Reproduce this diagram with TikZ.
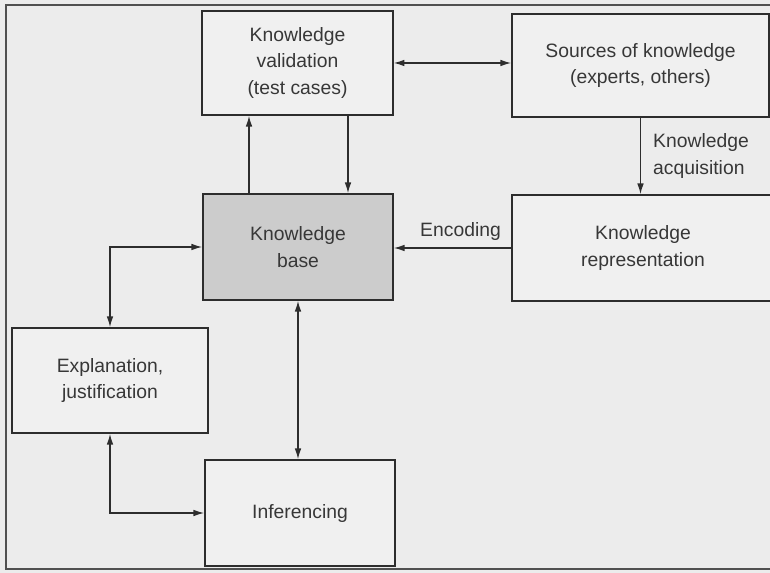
\documentclass[tikz,border=0pt]{standalone}
\usepackage{fontspec}
\setmainfont{Liberation Sans}
\usetikzlibrary{positioning,arrows.meta,calc}
\definecolor{ksPaper}{RGB}{236,236,236}
\definecolor{ksBox}{RGB}{240,240,240}
\definecolor{ksBase}{RGB}{204,204,204}
\definecolor{ksLine}{RGB}{45,45,45}
\definecolor{ksFrame}{RGB}{80,80,80}
\definecolor{ksText}{RGB}{55,55,55}
\tikzset{
    base/.style={font=\fontsize{14.5}{20}\selectfont, align=center, text=ksText},
    block/.style={base, rectangle, draw=ksLine, line width=1.3pt, fill=ksBox, inner sep=2mm},
    kbblock/.style={block, fill=ksBase},
    flow/.style={-{Latex[length=8pt,width=5pt]}, line width=1pt, color=ksLine},
    biflow/.style={{Latex[length=8pt,width=5pt]}-{Latex[length=8pt,width=5pt]}, line width=1pt, color=ksLine},
    label/.style={base, inner sep=1pt}
}
\begin{document}
\begin{tikzpicture}[x=0.75pt, y=-0.75pt]
  \useasboundingbox[fill=ksPaper] (0,0) rectangle (770,573);
  \draw[ksFrame, line width=1.4pt] (775,5) -- (6,5) -- (6,569) -- (775,569);

  \node[block, minimum width=143pt, minimum height=78pt] (valid) at (297.5,63) {Knowledge\\validation\\(test cases)};
  \node[block, minimum width=192.75pt, minimum height=77.25pt] (sources) at (640.5,65.5) {Sources of knowledge\\(experts, others)};
  \node[block, minimum width=196.5pt, minimum height=79.5pt] (repr) at (643,248) {Knowledge\\representation};
  \node[kbblock, minimum width=142.5pt, minimum height=79.5pt] (kb) at (298,247) {Knowledge\\base};
  \node[block, minimum width=147pt, minimum height=78.75pt] (expl) at (110,380.5) {Explanation,\\justification};
  \node[block, minimum width=142.5pt, minimum height=79.5pt] (infer) at (300,513) {Inferencing};

  \coordinate (upx) at (249,0);
  \coordinate (downx) at (348,0);
  \draw[flow] (kb.north -| upx) -- (valid.south -| upx);
  \draw[flow] (valid.south -| downx) -- (kb.north -| downx);
  \draw[biflow] (valid.east) -- (valid.east -| sources.west);
  \draw[flow] (sources.south) -- (sources.south |- repr.north) node[label, midway, right, align=left, xshift=8pt] {Knowledge\\acquisition};
  \draw[flow] (repr.west) -- (repr.west -| kb.east) node[label, midway, above, xshift=6pt, yshift=4pt] {Encoding};
  \draw[biflow] (expl.north) |- (kb.west);
  \draw[biflow] (expl.south) |- (infer.west);
  \draw[biflow] (kb.south) -- (kb.south |- infer.north);
\end{tikzpicture}
\end{document}
